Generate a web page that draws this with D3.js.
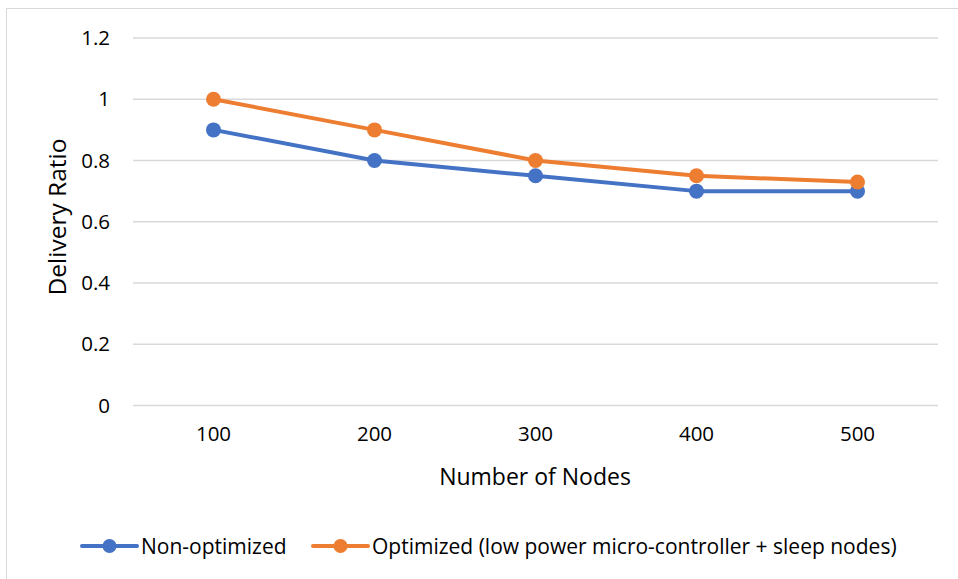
<!DOCTYPE html>
<html>
<head>
<meta charset="utf-8">
<script src="https://cdn.jsdelivr.net/npm/d3@7"></script>
<style>
  body { margin: 0; background: #fff; }
  text { font-family: "Open Sans", sans-serif; fill: #000; }
</style>
</head>
<body>
<div id="chart"></div>
<script>
// data
var categories = [100, 200, 300, 400, 500];
var nonOptimized = [0.9, 0.8, 0.75, 0.7, 0.7];
var optimized = [1.0, 0.9, 0.8, 0.75, 0.73];
var yTicks = [0, 0.2, 0.4, 0.6, 0.8, 1, 1.2];
var seriesNames = ["Non-optimized", "Optimized (low power micro-controller + sleep nodes)"];

var colors = ["#4472C4", "#ED7D31"];
var W = 958, H = 579;
var margins = { left: 133, right: 20, top: 38, bottom: 173 };
var width = 938 - margins.left;
var height = 405.5 - margins.top;

var svg = d3.select("#chart").append("svg")
    .attr("width", W).attr("height", H);

// outer border
svg.append("rect")
    .attr("x", 6.5).attr("y", 8.5)
    .attr("width", 1000).attr("height", 1000)
    .attr("fill", "none").attr("stroke", "#d9d9d9");

var g = svg.append("g")
    .attr("transform", "translate(" + margins.left + "," + margins.top + ")");

var x = d3.scaleBand().domain(categories).range([0, width]);
var y = d3.scaleLinear().domain([0, 1.2]).range([height, 0]);

// gridlines
g.selectAll(".grid").data(yTicks).join("line")
    .attr("class", "grid")
    .attr("x1", 0).attr("x2", width)
    .attr("y1", d => y(d)).attr("y2", d => y(d))
    .attr("stroke", "#d9d9d9").attr("stroke-width", 1.3);

// y axis labels
var yAxis = d3.axisLeft(y).tickValues(yTicks).tickSize(0).tickPadding(23)
    .tickFormat(d => String(+d.toFixed(1)));
g.append("g").call(yAxis)
    .call(s => s.select(".domain").remove())
    .selectAll("text").style("font-size", "20.5px").style("font-family", "Open Sans");

// x axis labels
var xAxis = d3.axisBottom(x).tickSize(0).tickPadding(21);
g.append("g").attr("transform", "translate(0," + height + ")").call(xAxis)
    .call(s => s.select(".domain").remove())
    .selectAll("text").style("font-size", "20.5px").style("font-family", "Open Sans");

// axis titles
svg.append("text")
    .attr("x", 535).attr("y", 485)
    .attr("text-anchor", "middle")
    .style("font-size", "23px")
    .text("Number of Nodes");
svg.append("text")
    .attr("transform", "translate(66,217) rotate(-90)")
    .attr("text-anchor", "middle")
    .style("font-size", "24.5px")
    .text("Delivery Ratio");

// lines
var series = [nonOptimized, optimized];
var line = d3.line()
    .x((d, i) => x(categories[i]) + x.bandwidth() / 2)
    .y(d => y(d));

series.forEach(function (vals, k) {
    g.append("path")
        .datum(vals)
        .attr("d", line)
        .attr("fill", "none")
        .attr("stroke", colors[k])
        .attr("stroke-width", 4)
        .attr("stroke-linejoin", "round");
    g.selectAll(".pt-" + k).data(vals).join("circle")
        .attr("class", "pt-" + k)
        .attr("cx", (d, i) => x(categories[i]) + x.bandwidth() / 2)
        .attr("cy", d => y(d))
        .attr("r", 7.5)
        .attr("fill", colors[k]);
});

// legend
var legendPos = [82, 313];
seriesNames.forEach(function (name, k) {
    var lg = svg.append("g").attr("transform", "translate(" + legendPos[k] + ",546)");
    lg.append("line").attr("x1", 0).attr("x2", 55)
        .attr("stroke", colors[k]).attr("stroke-width", 4).attr("stroke-linecap", "round");
    lg.append("circle").attr("cx", 27.5).attr("r", 7).attr("fill", colors[k]);
    lg.append("text").attr("x", 59).attr("y", 7.5)
        .style("font-size", "21px")
        .text(name);
});
</script>
</body>
</html>
